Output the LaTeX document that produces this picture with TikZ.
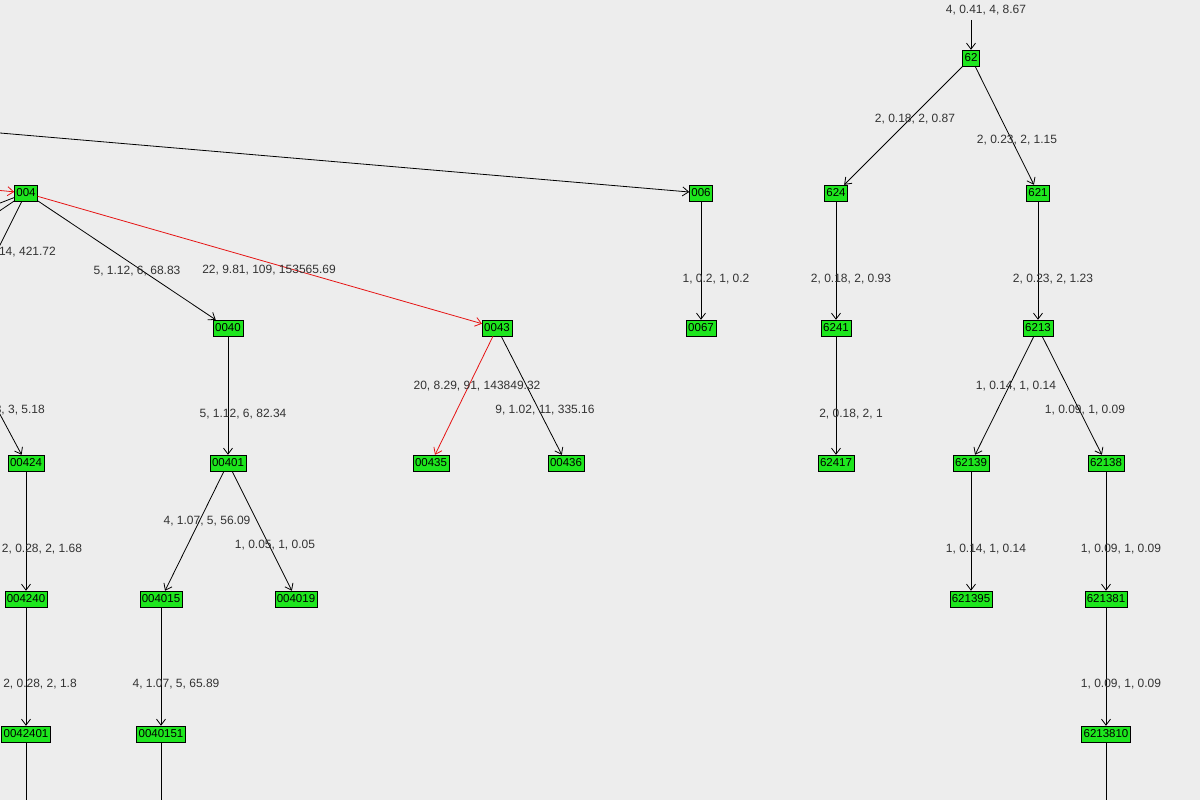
\documentclass[tikz,border=0pt]{standalone}
\usepackage{fontspec}
\setmainfont{Liberation Sans}
\usetikzlibrary{arrows.meta}
\begin{document}
\begin{tikzpicture}[x=1pt,y=-1pt,
  nd/.style={draw=black,fill={rgb,255:red,30;green,230;blue,30},inner xsep=2pt,inner ysep=1.5pt,minimum height=16pt,font=\fontsize{11.5}{13}\selectfont},
  lb/.style={font=\fontsize{12}{14}\selectfont,text=black!80,inner sep=0pt},
  ar/.style={-{Straight Barb[length=6pt,width=9pt]},line width=0.8pt},
  rd/.style={ar,draw={rgb,255:red,230;green,20;blue,20}}]
\fill[black!7] (0,0) rectangle (1200,800);
\useasboundingbox (0,0) rectangle (1200,800);
\foreach \n/\x/\y in {62/971/58,624/836/193,621/1038/193,004/26/193,006/701/193,0040/228/328,0043/497/328,0067/701/328,6241/836/328,6213/1038/328,00424/26/463,00401/228/463,00435/431/463,00436/566/463,62417/836/463,62139/971/463,62138/1106/463,004240/26/599,004015/161/599,004019/296/599,621395/971/599,621381/1106/599,0042401/26/734,0040151/161/734,6213810/1106/734}
  \node[nd] (n\n) at (\x,\y) {\n};
\coordinate (t62) at (971,20);
\coordinate (la) at (0,133);
\coordinate (lr) at (-5,190);
\coordinate (l1) at (-5,205);
\coordinate (l2) at (-5,214);
\coordinate (l3) at (-5,255);
\coordinate (l4) at (-5,405);
\coordinate (b1) at (26,805);
\coordinate (b2) at (161,805);
\coordinate (b3) at (1106,805);
\draw[ar] (t62) -- (n62);
\draw[ar] (n62) -- (n624);
\draw[ar] (n62) -- (n621);
\draw[ar] (la) -- (n006);
\draw[rd] (lr) -- (n004);
\draw[line width=0.8pt] (n004) -- (l1);
\draw[line width=0.8pt] (n004) -- (l2);
\draw[line width=0.8pt] (n004) -- (l3);
\draw[ar] (l4) -- (n00424);
\draw[ar] (n004) -- (n0040);
\draw[rd] (n004) -- (n0043);
\draw[ar] (n006) -- (n0067);
\draw[ar] (n624) -- (n6241);
\draw[ar] (n621) -- (n6213);
\draw[ar] (n0040) -- (n00401);
\draw[rd] (n0043) -- (n00435);
\draw[ar] (n0043) -- (n00436);
\draw[ar] (n6241) -- (n62417);
\draw[ar] (n6213) -- (n62139);
\draw[ar] (n6213) -- (n62138);
\draw[ar] (n00424) -- (n004240);
\draw[ar] (n00401) -- (n004015);
\draw[ar] (n00401) -- (n004019);
\draw[ar] (n62139) -- (n621395);
\draw[ar] (n62138) -- (n621381);
\draw[ar] (n004240) -- (n0042401);
\draw[ar] (n004015) -- (n0040151);
\draw[ar] (n621381) -- (n6213810);
\draw[line width=0.8pt] (n0042401) -- (b1);
\draw[line width=0.8pt] (n0040151) -- (b2);
\draw[line width=0.8pt] (n6213810) -- (b3);
\foreach \t/\x/\y in {{4, 0.41, 4, 8.67}/986/10,{2, 0.18, 2, 0.87}/915/119,{2, 0.23, 2, 1.15}/1017/140,{5, 1.12, 6, 68.83}/137/271,{22, 9.81, 109, 153565.69}/269/270,{1, 0.2, 1, 0.2}/716/279,{2, 0.18, 2, 0.93}/851/279,{2, 0.23, 2, 1.23}/1053/279,{5, 1.12, 6, 82.34}/243/414,{20, 8.29, 91, 143849.32}/477/386,{9, 1.02, 11, 335.16}/545/410,{2, 0.18, 2, 1}/851/414,{1, 0.14, 1, 0.14}/1016/386,{1, 0.09, 1, 0.09}/1085/410,{4, 1.07, 5, 56.09}/207/521,{1, 0.05, 1, 0.05}/275/545,{1, 0.14, 1, 0.14}/986/549,{1, 0.09, 1, 0.09}/1121/549,{4, 1.07, 5, 65.89}/176/684,{1, 0.09, 1, 0.09}/1121/684,{2, 0.28, 2, 1.68}/42/549,{2, 0.28, 2, 1.8}/40/684}
  \node[lb] at (\x,\y) {\t};
\node[lb,anchor=east] at (56,252) {2, 14, 421.72};
\node[lb,anchor=east] at (45,410) {3, 3, 5.18};
\end{tikzpicture}
\end{document}
